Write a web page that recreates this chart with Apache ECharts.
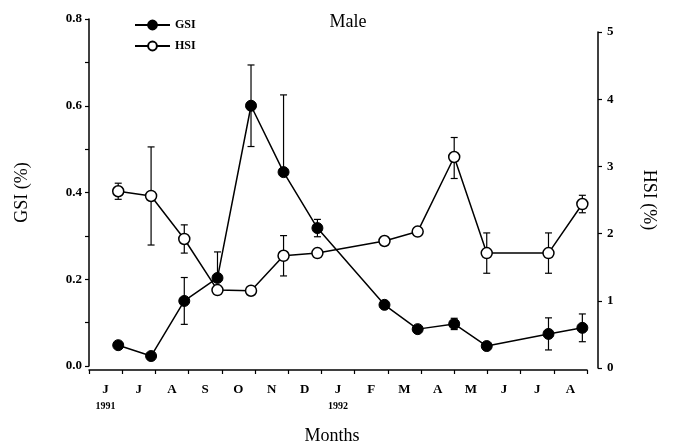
<!DOCTYPE html>
<html>
<head>
<meta charset="utf-8">
<script src="https://cdn.jsdelivr.net/npm/echarts@6/dist/echarts.min.js"></script>
<style>
html,body{margin:0;padding:0;background:#fff;}
#chart{width:675px;height:446px;}
</style>
</head>
<body>
<div id="chart"></div>
<script>
// Month labels (Jun 1991 - Aug 1992)
const monthLabels = ['J','J','A','S','O','N','D','J','F','M','A','M','J','J','A'];
const yearLabels = {0:'1991', 7:'1992'};
// Sampling times, in months since 1 June 1991
const sampleTime = [0.88, 1.87, 2.87, 3.87, 4.88, 5.86, 6.88, 8.9, 9.9, 11.0, 11.98, 13.84, 14.86];
// GSI (%) - left axis
const gsi      = [0.048, 0.023, 0.150, 0.203, 0.600, 0.447, 0.318, 0.141, 0.085, 0.097, 0.046, 0.074, 0.088];
const gsiPlus  = [0,     0,     0.054, 0.060, 0.094, 0.178, 0.020, 0,     0,     0.013, 0,     0.037, 0.032];
const gsiMinus = [0,     0,     0.054, 0,     0.094, 0,     0.020, 0,     0,     0.013, 0,     0.037, 0.032];
// HSI (%) - right axis
const hsi      = [2.63, 2.56, 1.92, 1.16, 1.15, 1.67, 1.71, 1.89, 2.03, 3.14, 1.71, 1.71, 2.44];
const hsiPlus  = [0.12, 0.73, 0.21, 0,    0,    0.30, 0,    0,    0,    0.29, 0.30, 0.30, 0.13];
const hsiMinus = [0.12, 0.73, 0.21, 0,    0,    0.30, 0,    0,    0,    0.32, 0.30, 0.30, 0.13];

const SERIF = '"Liberation Serif", "DejaVu Serif", serif';

function pairs(vals){ return sampleTime.map((t,i)=>[t, vals[i]]); }
function errData(vals, plus, minus){
  return sampleTime.map((t,i)=>[t, vals[i]-minus[i], vals[i]+plus[i], minus[i]>0?1:0, plus[i]>0?1:0]);
}
function renderErr(params, api){
  const x = api.value(0), lo = api.value(1), hi = api.value(2);
  const capLo = api.value(3), capHi = api.value(4);
  if (!capLo && !capHi) return null;
  const pTop = api.coord([x, hi]);
  const pBot = api.coord([x, lo]);
  const w = 3.5;
  const st = {stroke:'#000', lineWidth:1.2};
  const children = [{type:'line', shape:{x1:pTop[0], y1:pTop[1], x2:pBot[0], y2:pBot[1]}, style:st}];
  if (capHi) children.push({type:'line', shape:{x1:pTop[0]-w, y1:pTop[1], x2:pTop[0]+w, y2:pTop[1]}, style:st});
  if (capLo) children.push({type:'line', shape:{x1:pBot[0]-w, y1:pBot[1], x2:pBot[0]+w, y2:pBot[1]}, style:st});
  return {type:'group', children};
}

const chart = echarts.init(document.getElementById('chart'), null, {renderer:'canvas'});
const axisLine = {show:true, onZero:false, lineStyle:{color:'#000', width:1.5}};
const option = {
  backgroundColor:'#fff',
  animation:false,
  title:{text:'Male', left:343, top:8, textAlign:'center',
    textStyle:{fontFamily:SERIF, fontSize:18, fontWeight:'normal', color:'#000'}},
  legend:{
    orient:'vertical', left:134, top:19, padding:0,
    itemWidth:35, itemHeight:11, itemGap:9,
    data:['GSI','HSI'],
    textStyle:{fontFamily:SERIF, fontSize:12, fontWeight:'bold', color:'#000'}
  },
  grid:[
    {left:89, right:88, top:19, bottom:80, outerBoundsMode:'none', containLabel:false},
    {left:89, right:88, top:32, bottom:78, outerBoundsMode:'none', containLabel:false}
  ],
  xAxis:[
    {type:'category', gridIndex:0, position:'bottom', offset:4,
     data:monthLabels, boundaryGap:true,
     axisLine:axisLine,
     axisTick:{show:true, inside:false, length:4, interval:0, lineStyle:{color:'#000', width:1.2}},
     axisLabel:{margin:11, color:'#000', interval:0,
       formatter:function(v, i){ return yearLabels[i] ? '{m|'+v+'}\n{y|'+yearLabels[i]+'}' : '{m|'+v+'}'; },
       rich:{m:{fontFamily:SERIF, fontSize:13, fontWeight:'bold', lineHeight:17, color:'#000'},
             y:{fontFamily:SERIF, fontSize:10, fontWeight:'bold', lineHeight:16, color:'#000'}}},
     splitLine:{show:false},
     name:'Months', nameLocation:'middle', nameGap:57,
     nameTextStyle:{fontFamily:SERIF, fontSize:18, color:'#000', padding:[0,12,0,0]}},
    {type:'value', gridIndex:0, position:'top', min:0, max:15, show:false},
    {type:'value', gridIndex:1, position:'bottom', min:0, max:15, show:false}
  ],
  yAxis:[
    {type:'value', gridIndex:0, position:'left', min:0, max:0.8, interval:0.1,
     axisLine:axisLine,
     axisTick:{show:true, inside:false, length:4, lineStyle:{color:'#000', width:1.2}},
     axisLabel:{margin:7, color:'#000', fontFamily:SERIF, fontSize:13, fontWeight:'bold',
       formatter:function(v){ const k=Math.round(v*10); return k%2===0 ? (k/10).toFixed(1) : ''; }},
     splitLine:{show:false},
     name:'GSI (%)', nameLocation:'middle', nameGap:58, nameRotate:90,
     nameTextStyle:{fontFamily:SERIF, fontSize:18, color:'#000'}},
    {type:'value', gridIndex:1, position:'right', offset:11, min:0, max:5, interval:1,
     axisLine:axisLine,
     axisTick:{show:true, inside:false, length:4, lineStyle:{color:'#000', width:1.2}},
     axisLabel:{margin:9, color:'#000', fontFamily:SERIF, fontSize:13, fontWeight:'bold'},
     splitLine:{show:false},
     name:'HSI (%)', nameLocation:'middle', nameGap:42, nameRotate:-90,
     nameTextStyle:{fontFamily:SERIF, fontSize:18, color:'#000'}}
  ],
  series:[
    {type:'custom', name:'GSI err', xAxisIndex:1, yAxisIndex:0, renderItem:renderErr,
     data:errData(gsi, gsiPlus, gsiMinus), z:1, silent:true},
    {type:'custom', name:'HSI err', xAxisIndex:2, yAxisIndex:1, renderItem:renderErr,
     data:errData(hsi, hsiPlus, hsiMinus), z:1, silent:true},
    {type:'line', name:'HSI', xAxisIndex:2, yAxisIndex:1, data:pairs(hsi),
     symbol:'circle', symbolSize:11, showAllSymbol:true,
     lineStyle:{color:'#000', width:1.5},
     itemStyle:{color:'#fff', borderColor:'#000', borderWidth:1.5}, z:3},
    {type:'line', name:'GSI', xAxisIndex:1, yAxisIndex:0, data:pairs(gsi),
     symbol:'circle', symbolSize:11, showAllSymbol:true,
     lineStyle:{color:'#000', width:1.5},
     itemStyle:{color:'#000', borderColor:'#000', borderWidth:1}, z:4}
  ]
};
chart.setOption(option);
</script>
</body>
</html>
